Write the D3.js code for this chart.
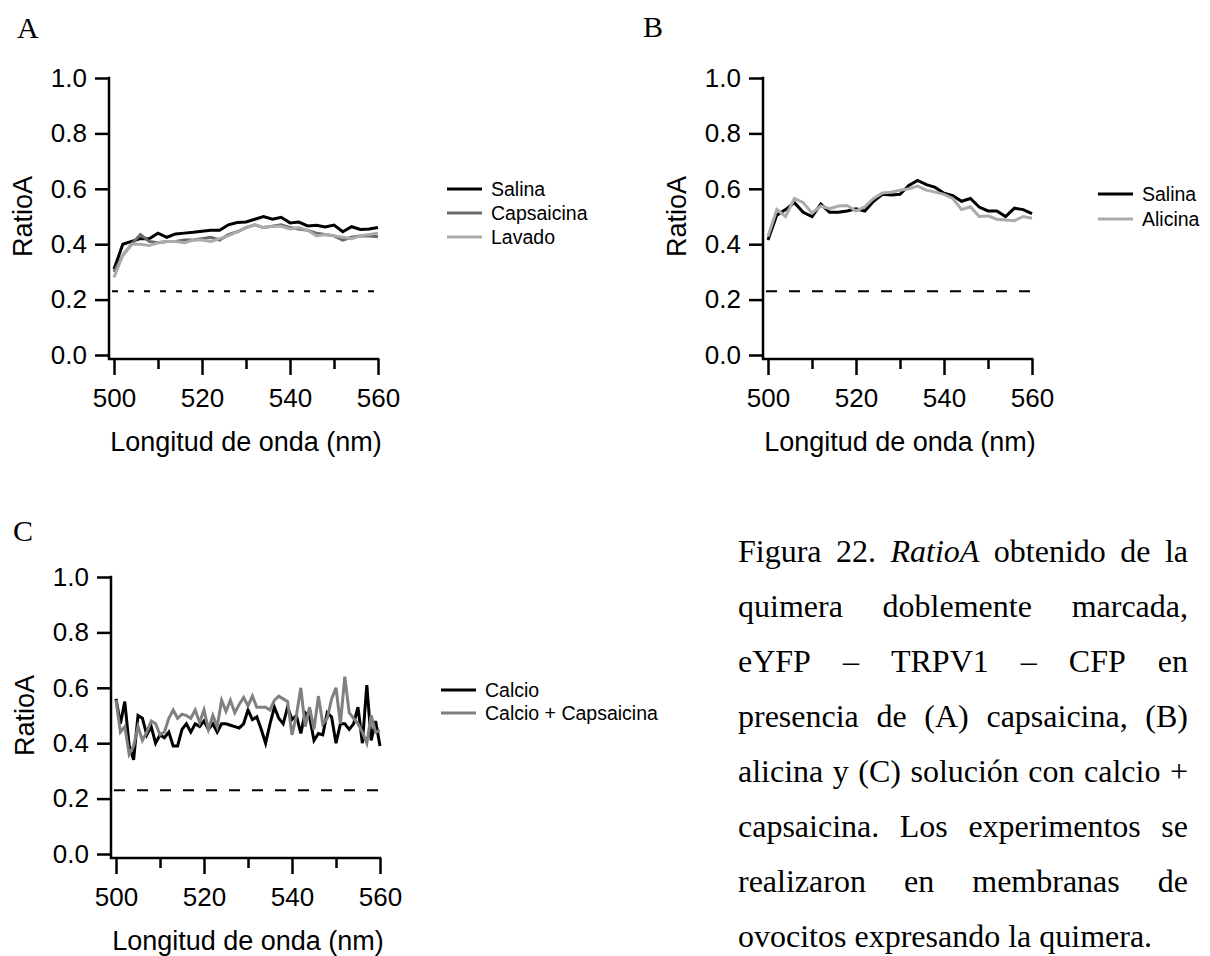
<!DOCTYPE html>
<html>
<head>
<meta charset="utf-8">
<script src="https://cdn.jsdelivr.net/npm/d3@7"></script>
<style>
body { margin: 0; background: #fff; }
svg text { font-family: Arial, "Liberation Sans", sans-serif; fill: #000; }
.caption text { font-family: "Liberation Serif", "Times New Roman", serif; font-size: 32px; }
.letter { font-family: "Liberation Serif", "Times New Roman", serif; font-size: 30px; }
</style>
</head>
<body>
<svg id="fig" width="1210" height="956"></svg>
<script>
// wavelengths (nm)
const nm2 = [500,502,504,506,508,510,512,514,516,518,520,522,524,526,528,530,
             532,534,536,538,540,542,544,546,548,550,552,554,556,558,560];
const nm1 = [500,501,502,503,504,505,506,507,508,509,510,511,512,513,514,515,516,517,518,519,
             520,521,522,523,524,525,526,527,528,529,530,531,532,533,534,535,536,537,538,539,
             540,541,542,543,544,545,546,547,548,549,550,551,552,553,554,555,556,557,558,559,560];

// panel A
const salinaA = [0.31,0.40,0.41,0.42,0.42,0.44,0.425,0.437,0.44,0.443,0.447,0.45,0.45,0.47,0.478,0.48,
                 0.49,0.50,0.49,0.497,0.477,0.48,0.466,0.468,0.462,0.469,0.445,0.463,0.453,0.455,0.46];
const capsA = [0.30,0.36,0.40,0.435,0.41,0.405,0.41,0.41,0.415,0.415,0.42,0.425,0.415,0.435,0.445,0.46,
               0.47,0.46,0.465,0.47,0.46,0.455,0.45,0.44,0.435,0.43,0.415,0.425,0.43,0.43,0.427];
const lavadoA = [0.28,0.36,0.40,0.40,0.395,0.405,0.41,0.41,0.405,0.415,0.415,0.41,0.42,0.43,0.445,0.46,
                 0.47,0.46,0.465,0.465,0.455,0.46,0.45,0.43,0.435,0.43,0.425,0.42,0.43,0.435,0.44];

// panel B
const salinaB = [0.415,0.505,0.525,0.55,0.515,0.50,0.545,0.515,0.515,0.52,0.528,0.52,0.555,0.58,0.578,0.58,
                 0.612,0.63,0.615,0.605,0.584,0.575,0.555,0.565,0.534,0.52,0.52,0.50,0.53,0.525,0.51];
const alicinaB = [0.428,0.525,0.50,0.565,0.55,0.512,0.538,0.528,0.538,0.54,0.52,0.535,0.565,0.585,0.588,0.595,
                  0.60,0.61,0.595,0.588,0.58,0.565,0.525,0.535,0.50,0.502,0.49,0.487,0.485,0.50,0.494];

// panel C
const calcioC = [0.56,0.47,0.55,0.39,0.34,0.50,0.49,0.43,0.46,0.40,
                 0.43,0.42,0.44,0.39,0.39,0.45,0.47,0.44,0.47,0.46,
                 0.48,0.45,0.47,0.44,0.47,0.47,0.465,0.46,0.455,0.47,
                 0.52,0.485,0.495,0.45,0.40,0.47,0.53,0.49,0.47,0.53,
                 0.485,0.50,0.435,0.51,0.495,0.41,0.435,0.43,0.51,0.495,
                 0.40,0.47,0.47,0.45,0.47,0.53,0.40,0.61,0.41,0.48,0.39];
const calcioCapsC = [0.556,0.44,0.46,0.36,0.39,0.46,0.41,0.44,0.48,0.47,
                     0.43,0.44,0.49,0.52,0.49,0.505,0.50,0.49,0.52,0.475,
                     0.52,0.45,0.50,0.46,0.555,0.515,0.555,0.51,0.54,0.565,
                     0.535,0.57,0.53,0.53,0.53,0.52,0.555,0.57,0.56,0.55,
                     0.43,0.50,0.60,0.46,0.53,0.45,0.57,0.47,0.49,0.56,
                     0.60,0.47,0.64,0.51,0.49,0.47,0.44,0.40,0.50,0.44,0.445];

const baseline = 0.23;
const yTicks = [0, 0.2, 0.4, 0.6, 0.8, 1.0];
const xTicks = [500, 510, 520, 530, 540, 550, 560];
const xLabels = [500, 520, 540, 560];

const captionLines = [
  "Figura 22. _RatioA_ obtenido de la",
  "quimera doblemente marcada,",
  "eYFP – TRPV1 – CFP en",
  "presencia de (A) capsaicina, (B)",
  "alicina y (C) solución con calcio +",
  "capsaicina. Los experimentos se",
  "realizaron en membranas de",
  "ovocitos expresando la quimera."
];

const svg = d3.select("#fig");

function drawPanel(p) {
  var g = svg.append("g");
  var x = d3.scaleLinear().domain([500, 560]).range([p.ax + 5, p.ax + 269]);
  var y = d3.scaleLinear().domain([0, 1]).range([p.ty + 277, p.ty]);
  var base = p.ty + 281;

  // panel letter
  g.append("text").attr("class", "letter")
    .attr("x", p.letter[1]).attr("y", p.letter[2]).text(p.letter[0]);

  // y axis
  var yAxis = g.append("g")
    .attr("transform", `translate(${p.ax},0)`)
    .call(d3.axisLeft(y).tickValues(yTicks).tickFormat(d3.format(".1f"))
      .tickSize(14).tickPadding(8).tickSizeOuter(0));
  yAxis.select(".domain").remove();
  yAxis.selectAll(".tick line").attr("stroke", "#000").attr("stroke-width", 2.5);
  yAxis.selectAll(".tick text").style("font-size", "26px").attr("fill", "#000");

  // x axis
  var xAxis = g.append("g")
    .attr("transform", `translate(0,${base})`)
    .call(d3.axisBottom(x).tickValues(xTicks).tickFormat(d3.format("d"))
      .tickSize(16).tickPadding(14).tickSizeOuter(0));
  xAxis.select(".domain").remove();
  xAxis.selectAll(".tick line").attr("stroke", "#000").attr("stroke-width", 2.5);
  xAxis.selectAll(".tick text").style("font-size", "26px").attr("fill", "#000");
  xAxis.selectAll(".tick").filter(d => xLabels.indexOf(d) < 0)
    .each(function() {
      d3.select(this).select("line").attr("y2", 10);
      d3.select(this).select("text").remove();
    });

  // axis lines (L shape)
  g.append("path")
    .attr("d", `M${p.ax},${y(1)}V${base}H${x(560)}`)
    .attr("fill", "none").attr("stroke", "#000").attr("stroke-width", 2.5)
    .attr("stroke-linecap", "square");

  // axis titles
  g.append("text")
    .attr("transform", `translate(${p.ax - 77},${y(0.5)}) rotate(-90)`)
    .attr("text-anchor", "middle").style("font-size", "27px")
    .text("RatioA");
  g.append("text")
    .attr("x", (x(500) + x(560)) / 2).attr("y", base + 92)
    .attr("text-anchor", "middle").style("font-size", "27px")
    .text("Longitud de onda (nm)");

  // dashed reference line
  g.append("line")
    .attr("x1", x(500) - 2).attr("x2", x(560))
    .attr("y1", y(baseline)).attr("y2", y(baseline))
    .attr("stroke", "#000").attr("stroke-width", 2)
    .attr("stroke-dasharray", p.dash);

  // traces
  p.series.forEach(function(s) {
    var line = d3.line()
      .x((d, i) => x(s.nm[i]))
      .y(d => y(d));
    g.append("path")
      .datum(s.values)
      .attr("d", line)
      .attr("fill", "none")
      .attr("stroke", s.color)
      .attr("stroke-width", 3);
  });

  // legend
  var leg = g.append("g");
  p.series.forEach(function(s, i) {
    var ly = p.legend[1] + i * p.legend[2];
    leg.append("line")
      .attr("x1", p.legend[0]).attr("x2", p.legend[0] + 35)
      .attr("y1", ly).attr("y2", ly)
      .attr("stroke", s.color).attr("stroke-width", 3);
    leg.append("text")
      .attr("x", p.legend[0] + 44).attr("y", ly + 7)
      .style("font-size", "19.5px")
      .text(s.name);
  });
}

drawPanel({
  ax: 109, ty: 78, letter: ["A", 17, 38], dash: "6,10",
  legend: [447, 189, 24],
  series: [
    {name: "Salina", nm: nm2, values: salinaA, color: "#000000"},
    {name: "Capsaicina", nm: nm2, values: capsA, color: "#6b6b6b"},
    {name: "Lavado", nm: nm2, values: lavadoA, color: "#ababab"}
  ]
});

drawPanel({
  ax: 763, ty: 78, letter: ["B", 643, 37], dash: "11,12",
  legend: [1098, 194, 25],
  series: [
    {name: "Salina", nm: nm2, values: salinaB, color: "#000000"},
    {name: "Alicina", nm: nm2, values: alicinaB, color: "#ababab"}
  ]
});

drawPanel({
  ax: 111, ty: 577, letter: ["C", 13, 541], dash: "11,12",
  legend: [441, 690, 23],
  series: [
    {name: "Calcio", nm: nm1, values: calcioC, color: "#000000"},
    {name: "Calcio + Capsaicina", nm: nm1, values: calcioCapsC, color: "#808080"}
  ]
});

// caption, justified
var cap = svg.append("g").attr("class", "caption");
var capX = 738, capW = 450, capY = 562, capStep = 55;
captionLines.forEach(function(line, i) {
  var words = line.split(" ").filter(w => w);
  var yPos = capY + i * capStep;
  var nodes = words.map(w => cap.append("text")
    .attr("y", yPos)
    .style("font-style", w[0] == "_" ? "italic" : "normal")
    .text(w.replace(/_/g, "")));
  var widths = nodes.map(n => n.node().getComputedTextLength());
  var gap = i < captionLines.length - 1 ? (capW - d3.sum(widths)) / (words.length - 1) : 32 * 0.25;
  var xPos = capX;
  nodes.forEach(function(n, k) {
    n.attr("x", xPos);
    xPos += widths[k] + gap;
  });
});
</script>
</body>
</html>
